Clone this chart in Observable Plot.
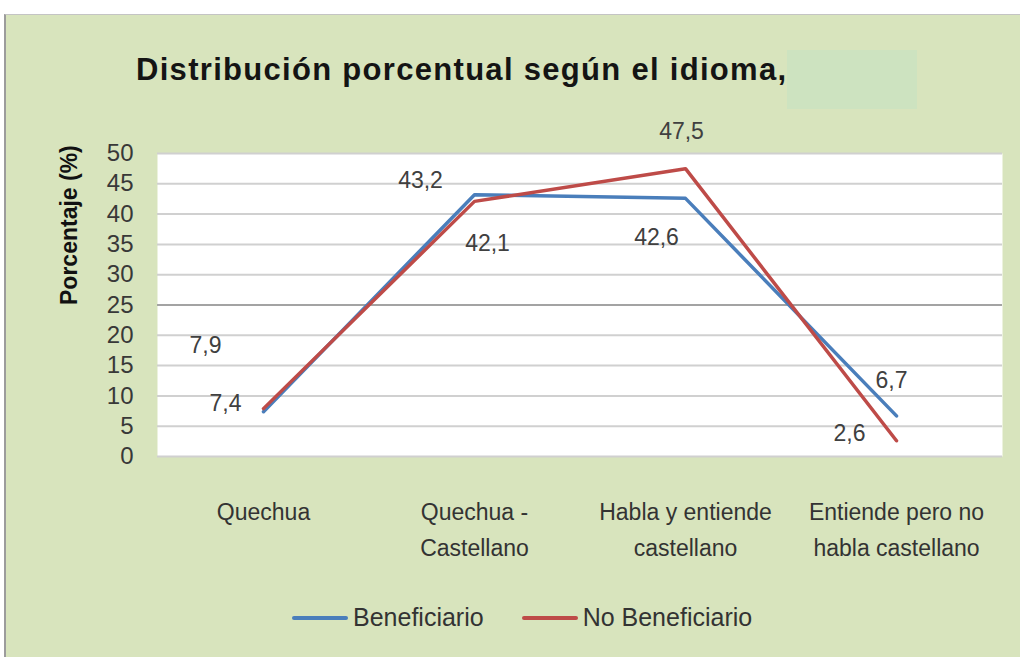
<!DOCTYPE html>
<html><head><meta charset="utf-8">
<script src="https://cdn.jsdelivr.net/npm/d3@7"></script>
<script src="https://cdn.jsdelivr.net/npm/@observablehq/plot@0.6"></script>
<style>
body{margin:0;background:#fff;}
#wrap{position:relative;width:1020px;height:657px;overflow:hidden;font-family:"Liberation Sans",Arial,sans-serif;}
#panel{position:absolute;left:4px;top:14px;width:1016px;height:643px;background:#d8e4bd;border-left:2px solid #9c9c9c;border-top:1px solid #c4c4c4;box-sizing:border-box;}
#title{position:absolute;left:136px;top:52px;font-size:31px;font-weight:bold;letter-spacing:1.3px;color:#141414;white-space:nowrap;}
#mask{position:absolute;left:787px;top:50px;width:130px;height:59px;background:#cde3c0;}
#chart{position:absolute;left:0;top:0;}
#legend{position:absolute;left:292px;top:603px;display:flex;align-items:center;font-size:25px;color:#333;}
.sw{width:56px;height:4px;border-radius:2px;margin-right:5px;}
.item{display:flex;align-items:center;}
</style></head>
<body>
<div id="wrap">
  <div id="panel"></div>
  <div id="chart"></div>
  <div id="title">Distribución porcentual según el idioma,</div>
  <div id="mask"></div>
  <div id="legend"></div>
</div>
<script>
const categories = ["Quechua", "Quechua - Castellano", "Habla y entiende castellano", "Entiende pero no habla castellano"];
const categoryLines = ["Quechua", "Quechua -\nCastellano", "Habla y entiende\ncastellano", "Entiende pero no\nhabla castellano"];
const seriesNames = ["Beneficiario", "No Beneficiario"];
const beneficiario = [7.4, 43.2, 42.6, 6.7];
const noBeneficiario = [7.9, 42.1, 47.5, 2.6];
const yTicks = [0, 5, 10, 15, 20, 25, 30, 35, 40, 45, 50];
const colors = ["#4a7ebb", "#be4b48"];
// label offsets (px) for each series / category, as placed in the original
const labelOffsets = {
  "Beneficiario": [[-38, -8], [-54, -14], [-29, 39], [-5, -35]],
  "No Beneficiario": [[-58, -63], [13, 42], [-4, -37], [-47, -7]]
};

const data = [];
categories.forEach((c, i) => {
  data.push({cat: c, series: seriesNames[0], value: beneficiario[i], i});
  data.push({cat: c, series: seriesNames[1], value: noBeneficiario[i], i});
});
const fmt = v => v.toFixed(1).replace(".", ",");
const lineLabel = new Map(categories.map((c, i) => [c, categoryLines[i]]));

const labelMarks = data.map(d => Plot.text([d], {
  x: "cat", y: "value", text: dd => fmt(dd.value),
  dx: labelOffsets[d.series][d.i][0], dy: labelOffsets[d.series][d.i][1],
  fontSize: 23, fill: "#404040"
}));

const chart = Plot.plot({
  width: 1020, height: 580,
  marginTop: 153, marginBottom: 124, marginLeft: 157, marginRight: 18,
  style: {background: "transparent", fontFamily: "'Liberation Sans', Arial, sans-serif"},
  x: {type: "point", domain: categories, padding: 0.5, axis: null},
  y: {domain: [0, 50], axis: null},
  color: {domain: seriesNames, range: colors},
  marks: [
    Plot.frame({fill: "white", stroke: null}),
    Plot.gridY(yTicks, {stroke: "#d0d0d0", strokeWidth: 2, strokeOpacity: 1}),
    Plot.ruleY([25], {stroke: "#a3a3a3", strokeWidth: 2}),
    Plot.axisY({ticks: yTicks, tickSize: 0, tickPadding: 24, fontSize: 24, fill: "#383838", label: null}),
    Plot.text(categories, {x: d => d, text: d => lineLabel.get(d), frameAnchor: "bottom",
      lineAnchor: "top", dy: 38, lineHeight: 1.56, fontSize: 23, fill: "#333"}),
    Plot.text(["Porcentaje (%)"], {frameAnchor: "left", dx: -88, rotate: -90,
      fontSize: 23, fontWeight: "bold", fill: "#111"}),
    Plot.line(data, {x: "cat", y: "value", z: "series", stroke: "series", strokeWidth: 3.5}),
    ...labelMarks
  ]
});
document.getElementById("chart").appendChild(chart);

const legend = document.getElementById("legend");
seriesNames.forEach((s, i) => {
  const item = document.createElement("div");
  item.className = "item";
  if (i > 0) item.style.marginLeft = "38px";
  const sw = document.createElement("div");
  sw.className = "sw"; sw.style.background = colors[i];
  const t = document.createElement("span");
  t.textContent = s;
  item.appendChild(sw); item.appendChild(t);
  legend.appendChild(item);
});
</script>
</body></html>
